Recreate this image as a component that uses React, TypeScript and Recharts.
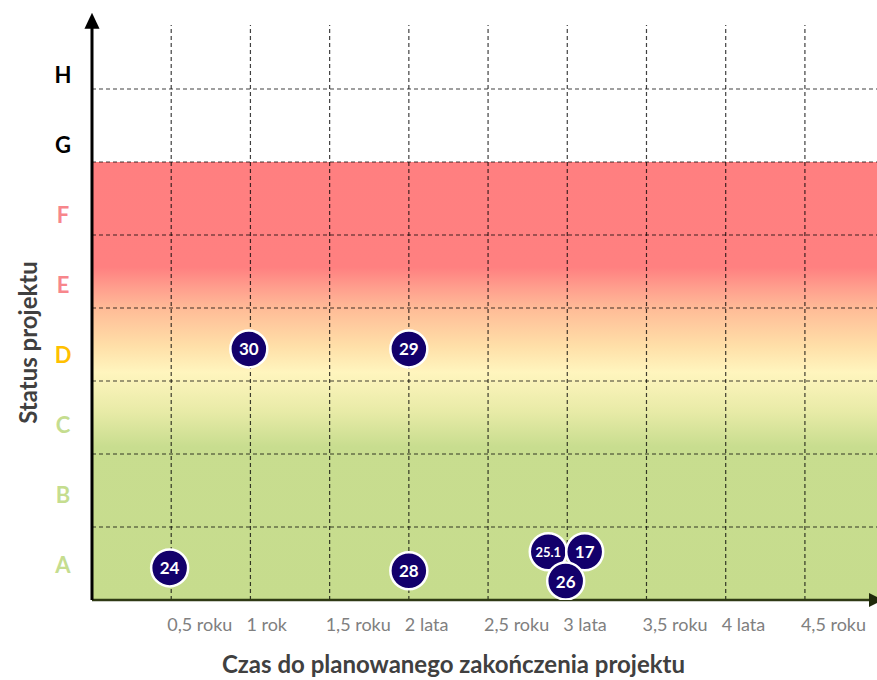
import React from 'react';
import { ScatterChart, Scatter, XAxis, YAxis, ReferenceArea, ReferenceLine } from 'recharts';

// status letters shown on the left, from the bottom band up
const statusLetters = ['A', 'B', 'C', 'D', 'E', 'F', 'G', 'H'];
const statusTicks = [0, 1, 2, 3, 4, 5, 6, 7];
const bandLines = [1, 2, 3, 4, 5, 6, 7];

const timeTicks = [0.5, 1, 1.5, 2, 2.5, 3, 3.5, 4, 4.5];
const timeLabels = ['0,5 roku', '1 rok', '1,5 roku', '2 lata', '2,5 roku', '3 lata', '3,5 roku', '4 lata', '4,5 roku'];

// projects (drawn in this order, later ones on top)
const projectIds = ['24', '28', '30', '29', '25.1', '17', '26'];
const projectTime = [0.49, 2.0, 0.99, 2.0, 2.88, 3.11, 2.99];
const projectStatus = [0.44, 0.4, 3.44, 3.44, 0.66, 0.66, 0.26];

const letterColors = ['#c5dd8f', '#c5dd8f', '#c5dd8f', '#ffc000', '#f7868b', '#f7868b', '#000000', '#000000'];

const FONT = 'Lato, "Open Sans", sans-serif';
const TITLE = '#404040';

function Bubble(props: any) {
  const { cx, cy, payload } = props;
  const small = payload.id.length > 2;
  return (
    <g>
      <circle cx={cx} cy={cy} r={18.5} fill="#13006b" stroke="#fff" strokeWidth={2.5} />
      <text
        x={cx}
        y={cy}
        textAnchor="middle"
        dominantBaseline="central"
        fill="#fff"
        fontWeight={700}
        fontSize={small ? 13 : 17}
        fontFamily={FONT}
      >
        {payload.id}
      </text>
    </g>
  );
}

function LetterTick(props: any) {
  const { x, y, payload } = props;
  const i = statusTicks.indexOf(payload.value);
  return (
    <text
      x={x - 21}
      y={y}
      textAnchor="middle"
      dominantBaseline="central"
      fill={letterColors[i]}
      fontWeight={700}
      fontSize={22}
      fontFamily={FONT}
    >
      {statusLetters[i]}
    </text>
  );
}

function TimeTick(props: any) {
  const { x, y, payload } = props;
  const i = timeTicks.indexOf(payload.value);
  return (
    <text x={x - 4} y={y + 16} textAnchor="start" dominantBaseline="central" fill="#808080" fontSize={18} fontFamily={FONT}>
      {timeLabels[i]}
    </text>
  );
}

function XTitle(props: any) {
  const { viewBox } = props;
  return (
    <text
      x={viewBox.x + viewBox.width / 2 - 31}
      y={viewBox.y + 63}
      textAnchor="middle"
      dominantBaseline="central"
      fill={TITLE}
      fontWeight={700}
      fontSize={24}
      fontFamily={FONT}
    >
      Czas do planowanego zakończenia projektu
    </text>
  );
}

function YTitle(props: any) {
  const { viewBox } = props;
  const x = viewBox.x + 27;
  const y = viewBox.y + viewBox.height / 2 + 30;
  return (
    <text
      x={x}
      y={y}
      transform={`rotate(-90 ${x} ${y})`}
      textAnchor="middle"
      dominantBaseline="central"
      fill={TITLE}
      fontWeight={700}
      fontSize={24}
      fontFamily={FONT}
    >
      Status projektu
    </text>
  );
}

export default function App() {
  const points = projectIds.map((id, i) => ({ id, x: projectTime[i], y: projectStatus[i] }));

  return (
    <div style={{ position: 'absolute', left: 0, top: 0, width: 877, height: 680, background: '#fff' }}>
      <ScatterChart width={877} height={680} margin={{ top: 25, right: 0, bottom: 0, left: 0 }}>
        <defs>
          <linearGradient id="statusBg" x1="0" y1="0" x2="0" y2="1">
            <stop offset="0" stopColor="#ff7f80" />
            <stop offset="0.24" stopColor="#ff8080" />
            <stop offset="0.29" stopColor="#ffa08e" />
            <stop offset="0.34" stopColor="#ffbe98" />
            <stop offset="0.42" stopColor="#ffdfa8" />
            <stop offset="0.48" stopColor="#fff5be" />
            <stop offset="0.57" stopColor="#e8eba7" />
            <stop offset="0.65" stopColor="#c8dd8f" />
            <stop offset="1" stopColor="#c6dc8d" />
          </linearGradient>
          <marker id="arrowY" markerUnits="userSpaceOnUse" markerWidth={16} markerHeight={17} viewBox="0 0 17 16" refX={4} refY={8} orient="auto-start-reverse">
            <path d="M0,0 L17,8 L0,16 z" fill="#000" />
          </marker>
          <marker id="arrowX" markerUnits="userSpaceOnUse" markerWidth={14} markerHeight={14} viewBox="0 0 14 14" refX={8} refY={7} orient="auto">
            <path d="M0,0 L14,7 L0,14 z" fill="#1f2a0a" />
          </marker>
        </defs>

        <XAxis
          type="number"
          dataKey="x"
          domain={[0, 4.955]}
          ticks={timeTicks}
          allowDataOverflow
          height={80}
          tickLine={false}
          axisLine={{ stroke: '#2f3a14', strokeWidth: 2.5, markerEnd: 'url(#arrowX)' }}
          tick={<TimeTick />}
          label={<XTitle />}
        />
        <YAxis
          yAxisId="lbl"
          type="number"
          domain={[-0.5, 7.7]}
          ticks={statusTicks}
          allowDataOverflow
          interval={0}
          width={92}
          tickLine={false}
          axisLine={{ stroke: '#000', strokeWidth: 3, markerStart: 'url(#arrowY)' }}
          tick={<LetterTick />}
          label={<YTitle />}
        />
        <YAxis yAxisId="main" type="number" dataKey="y" domain={[0, 7.877]} allowDataOverflow hide />

        {/* invisible anchor so the letter axis keeps its own scale */}
        <ReferenceLine yAxisId="lbl" y={statusTicks[0]} stroke="none" />

        <ReferenceArea yAxisId="main" y1={0} y2={6} fill="url(#statusBg)" fillOpacity={1} stroke="none" />

        {timeTicks.map((t) => (
          <ReferenceLine key={'v' + t} yAxisId="main" x={t} stroke="#000" strokeOpacity={0.75} strokeWidth={1.2} strokeDasharray="4 3" />
        ))}
        {bandLines.map((b) => (
          <ReferenceLine key={'h' + b} yAxisId="main" y={b} stroke="#000" strokeOpacity={0.75} strokeWidth={1.2} strokeDasharray="4 3" />
        ))}

        <Scatter yAxisId="main" data={points} shape={<Bubble />} isAnimationActive={false} />
      </ScatterChart>
    </div>
  );
}
